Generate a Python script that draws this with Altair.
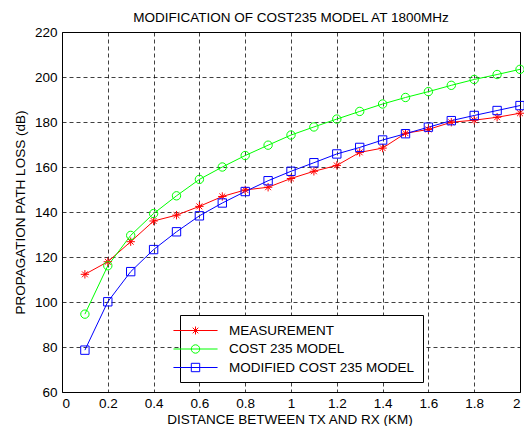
import altair as alt
import pandas as pd

distance = [0.1, 0.2, 0.3, 0.4, 0.5, 0.6, 0.7, 0.8, 0.9, 1.0,
            1.1, 1.2, 1.3, 1.4, 1.5, 1.6, 1.7, 1.8, 1.9, 2.0]
measurement = [112.3, 117.9, 126.8, 136.0, 138.6, 142.5, 146.9, 149.8, 151.0, 154.9,
               158.1, 160.7, 166.5, 168.4, 175.0, 176.7, 179.9, 180.8, 182.1, 183.9]
cost235 = [94.6, 116.1, 129.6, 139.3, 147.2, 154.5, 160.0, 165.1, 169.7, 174.2,
           177.8, 181.3, 184.7, 188.0, 190.9, 193.5, 196.3, 198.9, 201.1, 203.4]
modified = [78.6, 100.1, 113.5, 123.3, 131.2, 138.3, 144.0, 149.1, 153.9, 158.1,
            161.9, 165.8, 168.7, 172.0, 174.8, 177.7, 180.6, 182.9, 185.1, 187.3]

series_names = ["MEASUREMENT", "COST 235 MODEL", "MODIFIED COST 235 MODEL"]
series_colors = ["#ff0000", "#00ff00", "#0000ff"]
x_ticks = [0, 0.2, 0.4, 0.6, 0.8, 1, 1.2, 1.4, 1.6, 1.8, 2]
y_ticks = [60, 80, 100, 120, 140, 160, 180, 200, 220]

rows = []
for name, vals in zip(series_names, [measurement, cost235, modified]):
    for d, v in zip(distance, vals):
        rows.append({"distance": d, "loss": v, "series": name})
df = pd.DataFrame(rows)

FONT = "Liberation Sans"
FS = 13.5
W, H = 458, 360

star = "M-1,0L1,0M0,-1L0,1M-0.7,-0.7L0.7,0.7M-0.7,0.7L0.7,-0.7"
marker_shapes = [star, "circle", "square"]

line_part = "M-3.15,0L3.15,0"
leg_star = line_part + "M-0.57,0L0.57,0M0,-0.57L0,0.57M-0.4,-0.4L0.4,0.4M-0.4,0.4L0.4,-0.4"
leg_circle = line_part + "M0.6,0A0.6,0.6,0,1,1,-0.6,0A0.6,0.6,0,1,1,0.6,0"
leg_square = line_part + "M-0.6,-0.6L0.6,-0.6L0.6,0.6L-0.6,0.6Z"
legend_shapes = [leg_star, leg_circle, leg_square]

x_enc = alt.X("distance:Q",
              scale=alt.Scale(domain=[0, 2], nice=False, zero=False),
              axis=alt.Axis(values=x_ticks, format=".1~f", title="DISTANCE BETWEEN TX AND RX (KM)",
                            grid=True, gridColor="#000000", gridDash=[4, 3], gridOpacity=0.75,
                            ticks=False, domain=False, labelPadding=4,
                            labelFont=FONT, labelFontSize=FS, labelColor="#000000",
                            titleFont=FONT, titleFontSize=FS, titleFontWeight="normal",
                            titleColor="#000000", titleX=W / 2 - 1.5, titleY=27,
                            titleAlign="center", titleBaseline="middle"))
y_enc = alt.Y("loss:Q",
              scale=alt.Scale(domain=[60, 220], nice=False, zero=False),
              axis=alt.Axis(values=y_ticks, title="PROPAGATION PATH LOSS (dB)",
                            grid=True, gridColor="#000000", gridDash=[4, 3], gridOpacity=0.75,
                            ticks=False, domain=False, labelPadding=5,
                            labelFont=FONT, labelFontSize=FS, labelColor="#000000",
                            titleFont=FONT, titleFontSize=FS, titleFontWeight="normal",
                            titleColor="#000000", titleX=-41.5, titleY=H / 2, titleAngle=-90,
                            titleAlign="center", titleBaseline="middle"))

color_scale = alt.Scale(domain=series_names, range=series_colors)

legend_props = dict(
    title=None, orient="none", legendX=118, legendY=283,
    strokeColor="#000000", fillColor="#ffffff", padding=8, cornerRadius=0,
    labelFont=FONT, labelFontSize=FS, labelColor="#000000",
    symbolSize=196, symbolStrokeWidth=1, symbolFillColor="transparent",
    rowPadding=4.5, labelOffset=26, symbolOffset=0, labelLimit=400,
)

lines = alt.Chart(df).mark_line(strokeWidth=1).encode(
    x=x_enc, y=y_enc,
    color=alt.Color("series:N", scale=color_scale, legend=None),
    detail="series:N",
)

points = alt.Chart(df).mark_point(filled=False, strokeWidth=1, size=70, opacity=1).encode(
    x=x_enc, y=y_enc,
    color=alt.Color("series:N", scale=color_scale, legend=None),
    shape=alt.Shape("series:N", scale=alt.Scale(domain=series_names, range=marker_shapes), legend=None),
)

legend_layer = alt.Chart(df).transform_filter("false").mark_point(
    filled=False, strokeWidth=1, size=196, opacity=1).encode(
    x=x_enc, y=y_enc,
    color=alt.Color("series:N", scale=color_scale, legend=alt.Legend(**legend_props)),
    shape=alt.Shape("series:N", scale=alt.Scale(domain=series_names, range=legend_shapes),
                    legend=alt.Legend(**legend_props)),
)

chart = alt.layer(lines, points, legend_layer).resolve_scale(
    color="independent", shape="independent"
).properties(
    width=W, height=H,
    background="#ffffff",
    title=alt.TitleParams("MODIFICATION OF COST235 MODEL AT 1800MHz", font=FONT, fontSize=FS,
                          fontWeight="normal", color="#000000", anchor="middle", offset=1),
    autosize=alt.AutoSizeParams(type="none"),
    padding={"left": 54, "top": 24, "right": 4, "bottom": 34},
).configure_view(
    stroke="#000000", strokeWidth=1
)

chart.save("out.html", embed_options={"renderer": "svg", "actions": False})
